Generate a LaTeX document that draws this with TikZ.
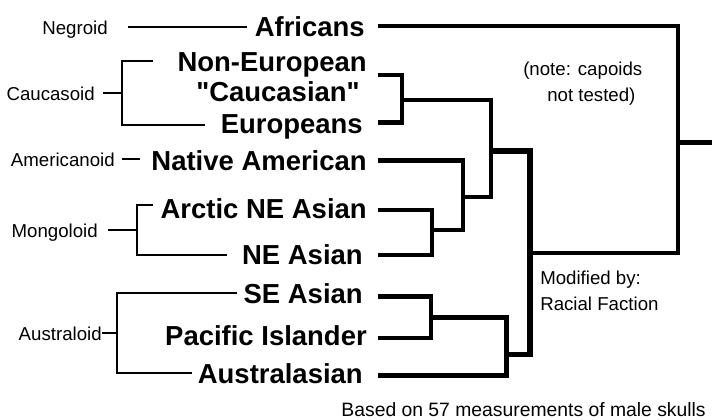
\documentclass[tikz,border=0pt]{standalone}
\usepackage{fontspec}
\setmainfont{Liberation Sans}[Ligatures=TeXOff]
\begin{document}
\begin{tikzpicture}[x=0.75pt,y=-0.75pt,
  big/.style={font=\fontsize{20.6pt}{24pt}\selectfont\bfseries, inner sep=0pt, anchor=base east},
  lab/.style={font=\fontsize{14pt}{17pt}\selectfont, inner sep=0pt},
  branch/.style={line width=3.6pt, line join=miter},
  heavybranch/.style={line width=4.3pt, line join=miter},
  leader/.style={line width=1.1pt, line join=miter}]
\useasboundingbox (0,0) rectangle (724,419);

% taxa
\node[big] (afr)    at (365,36)  {Africans};
\node[big] (noneu)  at (367,71)  {Non-European};
\node[big] (cauc)   at (360,101) {"Caucasian"};
\node[big] (eur)    at (363,133) {Europeans};
\node[big] (natam)  at (367,170) {Native American};
\node[big] (arctic) at (367,218) {Arctic NE Asian};
\node[big] (neas)   at (363,264) {NE Asian};
\node[big] (seas)   at (363,303) {SE Asian};
\node[big] (pac)    at (367,345) {Pacific Islander};
\node[big] (aus)    at (363,383) {Australasian};

% race labels
\node[lab,anchor=base east] (negroid)     at (108,34)  {Negroid};
\node[lab,anchor=base east] (caucasoid)   at (95,100)  {Caucasoid};
\node[lab,anchor=base east] (americanoid) at (115,166) {Americanoid};
\node[lab,anchor=base east] (mongoloid)   at (98,237)  {Mongoloid};
\node[lab,anchor=base east] (australoid)  at (102,340) {Australoid};

% notes
\node[lab,anchor=base west] (note1) at (523,75)  {(note: capoids};
\node[lab,anchor=base west] (note2) at (547,101) {not tested)};
\node[lab,anchor=base west] (mod1)  at (540,284) {Modified by:};
\node[lab,anchor=base west] (mod2)  at (540,310) {Racial Faction};
\node[lab,anchor=base east,font=\fontsize{14.5pt}{17pt}\selectfont] (based) at (706,416) {Based on 57 measurements of male skulls};

% leaf starts of the tree
\coordinate (lAfr) at (378,26);
\coordinate (lNon) at (378,75);
\coordinate (lEur) at (378,122.5);
\coordinate (lNat) at (378,160.5);
\coordinate (lArc) at (378,210);
\coordinate (lNEA) at (378,255);
\coordinate (lSEA) at (378,296.5);
\coordinate (lPac) at (378,338);
\coordinate (lAus) at (378,375.5);
% joints
\coordinate (jCau) at (402,100);
\coordinate (jMon) at (432,230);
\coordinate (jAmM) at (463,197);
\coordinate (jCA)  at (491,151);
\coordinate (jSP)  at (431,317.5);
\coordinate (jAus) at (506.5,354.5);
\coordinate (jAll) at (530,253);
\coordinate (root) at (678,142.5);
\coordinate (rootEnd) at (712,142.5);

\draw[branch] (lNon) -| (jCau) |- (lEur);
\draw[branch] (lArc) -| (jMon) |- (lNEA);
\draw[branch] (lSEA) -| (jSP) |- (lPac);
\draw[branch] (lNat) -| (jAmM) |- (jMon);
\draw[branch] (jCau) -| (jCA) |- (jAmM);
\draw[branch] (jSP) -| (jAus) |- (lAus);
\draw[heavybranch] (jCA) -| (jAll) |- (jAus);
\draw[branch] (lAfr) -| (root) |- (jAll);
\draw[heavybranch] (root) -- (rootEnd);

% left leader lines
\coordinate (negA) at (128,27);  \coordinate (negB) at (247,27);
\draw[leader] (negA) -- (negB);
\coordinate (cauA) at (103,93);  \coordinate (cauJ) at (122,93);
\coordinate (cauT) at (153,61);  \coordinate (cauB) at (205,125);
\draw[leader] (cauA) -- (cauJ);
\draw[leader] (cauT) -| (cauJ) |- (cauB);
\coordinate (ameA) at (122,159); \coordinate (ameB) at (140,159);
\draw[leader] (ameA) -- (ameB);
\coordinate (monA) at (108,230); \coordinate (monJ) at (137,230);
\coordinate (monT) at (153,205); \coordinate (monB) at (227,255);
\draw[leader] (monA) -- (monJ);
\draw[leader] (monT) -| (monJ) |- (monB);
\coordinate (ausA) at (102,333); \coordinate (ausJ) at (117,333);
\coordinate (ausT) at (237,293); \coordinate (ausB) at (192,373);
\draw[leader] (ausA) -- (ausJ);
\draw[leader] (ausT) -| (ausJ) |- (ausB);
\end{tikzpicture}
\end{document}
